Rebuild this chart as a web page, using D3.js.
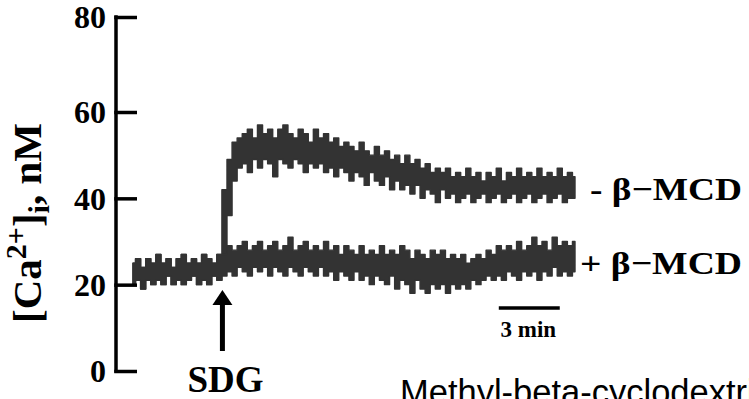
<!DOCTYPE html>
<html>
<head>
<meta charset="utf-8">
<script src="https://cdn.jsdelivr.net/npm/d3@7"></script>
<style>
  html, body { margin: 0; padding: 0; background: #fff; }
  svg { display: block; }
</style>
</head>
<body>
<svg id="chart" width="749" height="399"></svg>
<script>
// Fura-2 [Ca2+]i recordings, sampled every 0.25 min (min / max envelope per sample)
const sampleStep = 0.25;          // minutes between samples
const sdgTime = 4.4;              // SDG added (min)
const scaleBarStart = 18;         // 3-min time bar position (min)
const scaleBarLength = 3;
const yTicks = [0, 20, 40, 60, 80];

// shared resting baseline before SDG (t = 0 .. 4.25 min)
const baselineHi = [25,26,24,26,25,27,25,26,24,26,27,25,26,25,27,26,25,27];
const baselineLo = [20,21,19,21,20,21,20,22,20,21,20,21,22,20,21,20,22,21];

// - β-MCD after SDG (t = 4.5 .. 21.75 min)
const minusMcdHi = [42,49,53,54,55,56,54,57,55,56,54,56,57,55,54,56,55,53,56,54,
                    55,53,54,52,53,52,51,53,51,50,52,50,51,49,50,48,50,48,49,47,
                    48,46,47,46,47,45,46,45,47,45,46,44,46,45,47,44,46,45,47,45,
                    46,45,47,45,46,45,47,45,46,45];
const minusMcdLo = [27,36,44,47,48,46,49,47,49,48,45,49,48,47,49,48,46,48,47,48,
                    46,47,45,47,46,44,46,45,43,46,44,43,45,42,44,42,43,41,43,40,
                    42,41,39,42,40,41,39,40,41,39,40,41,39,40,41,39,40,41,39,40,
                    41,39,40,41,39,40,41,39,40,40];

// + β-MCD after SDG (t = 4.5 .. 21.75 min)
const plusMcdHi = [27,29,28,29,30,28,29,30,28,29,30,28,29,31,28,29,30,28,29,28,
                   30,28,29,27,29,28,27,29,27,28,27,29,27,28,27,29,28,26,28,27,
                   26,28,27,28,26,27,26,27,25,26,27,26,28,27,29,28,29,28,30,28,
                   29,31,29,30,28,31,29,30,29,30];
const plusMcdLo = [22,23,22,24,23,22,24,23,24,22,24,23,22,24,23,22,24,23,22,24,
                   22,23,21,23,22,21,23,21,22,20,22,21,20,22,19,21,20,18,21,19,
                   18,20,19,20,18,20,19,20,19,21,20,21,22,21,22,21,23,22,21,23,
                   22,23,21,23,22,24,22,23,22,23];

const traceColor = "#333333";
const serif = "'Liberation Serif', 'Times New Roman', serif";
const sans = "'Liberation Sans', Arial, sans-serif";

const svg = d3.select("#chart");

const nSamples = baselineHi.length + minusMcdHi.length;
const x = d3.scaleLinear()
  .domain([0, (nSamples - 1) * sampleStep])
  .range([133, 575]);

// ordinate as printed on the original figure (upper segment drawn slightly taller)
const y = d3.scaleLinear()
  .domain([0, 60, 80])
  .range([371, 112, 17]);

function toRows(hi, lo) {
  return hi.map((h, i) => ({ t: i * sampleStep, hi: h, lo: lo[i] }));
}

const traces = [
  { name: "minus", rows: toRows(baselineHi.concat(minusMcdHi), baselineLo.concat(minusMcdLo)) },
  { name: "plus",  rows: toRows(baselineHi.concat(plusMcdHi),  baselineLo.concat(plusMcdLo)) }
];

const area = d3.area()
  .x(d => x(d.t))
  .y0(d => y(d.lo))
  .y1(d => y(d.hi))
  .curve(d3.curveStep);

svg.append("g")
  .selectAll("path")
  .data(traces)
  .join("path")
  .attr("d", d => area(d.rows))
  .attr("fill", traceColor)
  .attr("stroke", traceColor)
  .attr("stroke-width", 1.4)
  .attr("stroke-linejoin", "round");

// y axis: ticks point into the plot, labels on the left
const yAxis = d3.axisLeft(y)
  .tickValues(yTicks)
  .tickSizeInner(-21)
  .tickSizeOuter(0)
  .tickPadding(10)
  .tickFormat(d3.format("d"));

const gy = svg.append("g")
  .attr("transform", "translate(116,0)")
  .call(yAxis);

gy.select(".domain")
  .attr("stroke", "#000")
  .attr("stroke-width", 3.5)
  .attr("d", `M0,${y(0) + 1.75}V${y(80) - 1.75}`);
gy.selectAll(".tick line")
  .attr("stroke", "#000")
  .attr("stroke-width", 3.5)
  .attr("x1", -1.75);
gy.selectAll(".tick text")
  .attr("font-family", serif)
  .attr("font-weight", "bold")
  .attr("font-size", 32)
  .attr("fill", "#000")
  .attr("dy", "0.34em");

// y-axis title
const title = svg.append("text")
  .attr("transform", "translate(41,223) rotate(-90)")
  .attr("text-anchor", "middle")
  .attr("font-family", serif)
  .attr("font-weight", "bold")
  .attr("font-size", 41)
  .attr("fill", "#000");
title.append("tspan").text("[Ca");
title.append("tspan").attr("font-size", 30).attr("dy", -15).text("2+");
title.append("tspan").attr("dy", 15).text("]");
title.append("tspan").attr("font-size", 30).attr("dy", 8).text("i");
title.append("tspan").attr("dy", -8).text(", nM");

// trace labels
const labels = [
  { text: "- \u03b2\u2212MCD", value: 42.2, x: 590, width: 152 },
  { text: "+ \u03b2\u2212MCD", value: 25.0, x: 580, width: 162 }
];
svg.append("g")
  .selectAll("text")
  .data(labels)
  .join("text")
  .attr("x", d => d.x)
  .attr("y", d => y(d.value))
  .attr("dy", "0.35em")
  .attr("font-family", serif)
  .attr("font-weight", "bold")
  .attr("font-size", 32)
  .attr("textLength", d => d.width)
  .attr("lengthAdjust", "spacingAndGlyphs")
  .attr("fill", "#000")
  .text(d => d.text);

// SDG application arrow
const ax = x(sdgTime);
svg.append("line")
  .attr("x1", ax).attr("x2", ax)
  .attr("y1", 351).attr("y2", 302)
  .attr("stroke", "#000")
  .attr("stroke-width", 5);
svg.append("path")
  .attr("d", `M${ax - 10},${305}L${ax},${290}L${ax + 10},${305}Z`)
  .attr("fill", "#000");
svg.append("text")
  .attr("x", ax + 3)
  .attr("y", 392)
  .attr("text-anchor", "middle")
  .attr("font-family", serif)
  .attr("font-weight", "bold")
  .attr("font-size", 37)
  .attr("fill", "#000")
  .text("SDG");

// 3-min time bar
svg.append("line")
  .attr("x1", x(scaleBarStart))
  .attr("x2", x(scaleBarStart + scaleBarLength))
  .attr("y1", 308).attr("y2", 308)
  .attr("stroke", "#000")
  .attr("stroke-width", 3.5);
svg.append("text")
  .attr("x", (x(scaleBarStart) + x(scaleBarStart + scaleBarLength)) / 2 - 1)
  .attr("y", 337)
  .attr("text-anchor", "middle")
  .attr("font-family", serif)
  .attr("font-weight", "bold")
  .attr("font-size", 23)
  .attr("fill", "#000")
  .text("3 min");

// caption
svg.append("text")
  .attr("x", 400)
  .attr("y", 404)
  .attr("font-family", sans)
  .attr("font-size", 34.5)
  .attr("fill", "#000")
  .text("Methyl-beta-cyclodextrin");
</script>
</body>
</html>
